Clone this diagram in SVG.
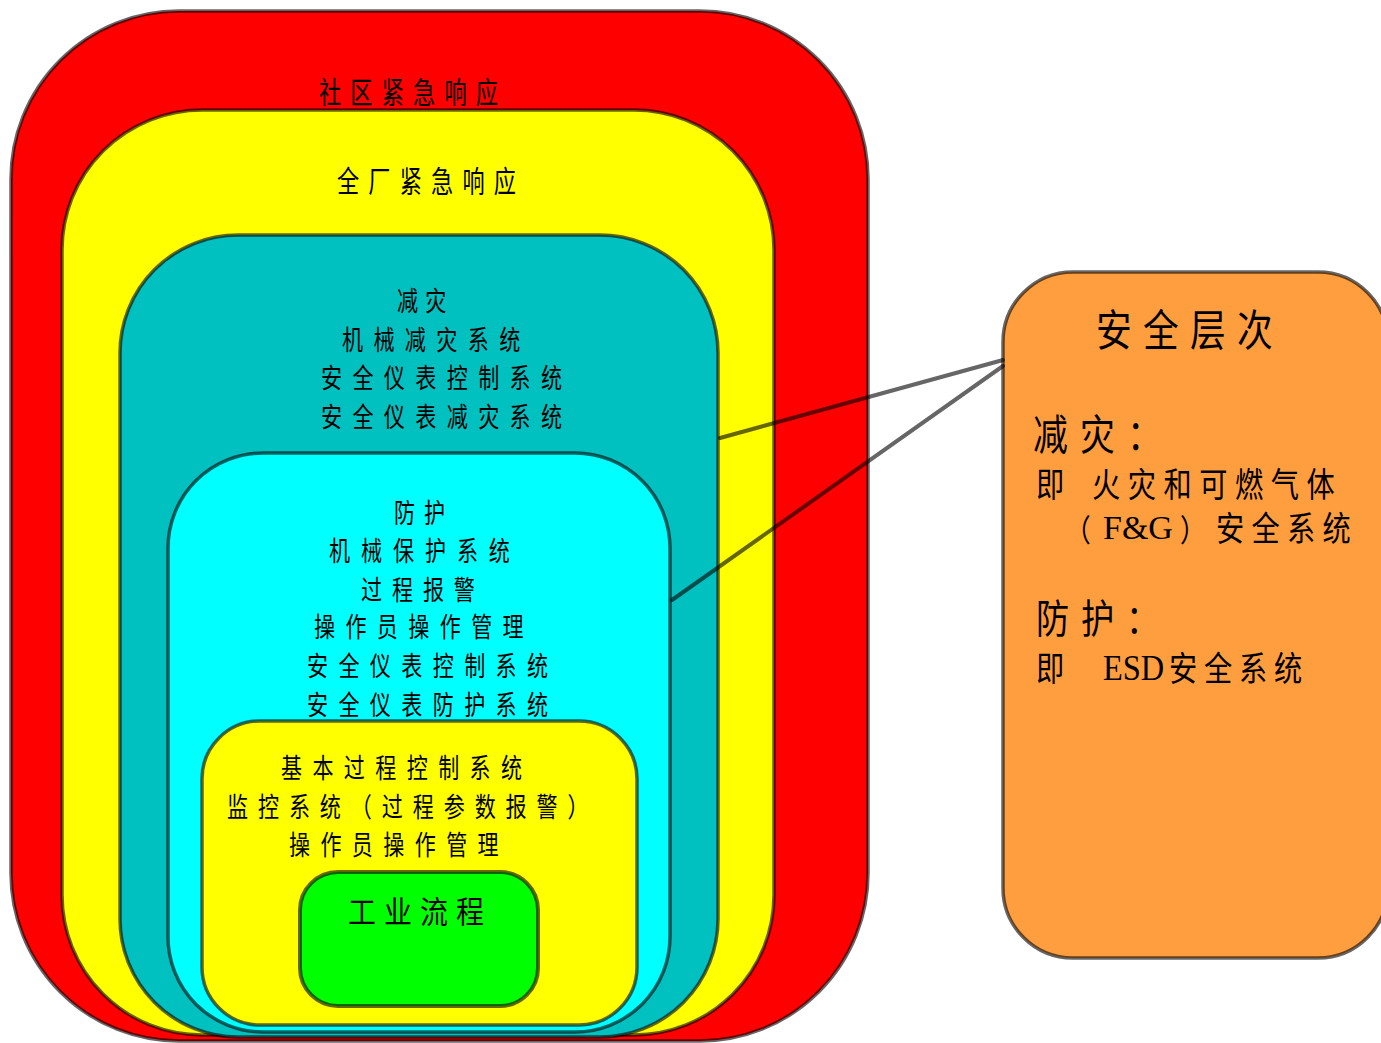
<svg xmlns="http://www.w3.org/2000/svg" width="1381" height="1043" viewBox="0 0 1381 1043">
  <style>
    .box { stroke: #000; stroke-opacity: 0.6; stroke-width: 3.5; }
    .t { font-family: "Noto Sans CJK SC", "Noto Sans", sans-serif; fill: #000; }
    .s27 { font-size: 27px; letter-spacing: 13.3px; }
    .s30 { font-size: 30px; letter-spacing: 12.4px; }
    .lat { font-family: "Liberation Serif", "Times New Roman", serif; fill: #000; }
    .link { stroke: #000; stroke-opacity: 0.6; stroke-width: 4; stroke-linecap: round; fill: none; }
  </style>

  <!-- nested safety layers, outermost first -->
  <g id="community-response">
    <rect class="box" x="11" y="11" width="857" height="1030" rx="168" ry="168" fill="#ff0000"/>
    <text class="t s30" transform="translate(319,103) scale(0.74,1)">社区紧急响应</text>
  </g>

  <g id="plant-response">
    <rect class="box" x="62" y="110" width="712" height="925" rx="140" ry="140" fill="#ffff00"/>
    <text class="t s30" transform="translate(337,192) scale(0.74,1)">全厂紧急响应</text>
  </g>

  <g id="mitigation">
    <rect class="box" x="120" y="235" width="598" height="802" rx="118" ry="118" fill="#00c0c0"/>
    <text class="t s27" style="letter-spacing:9.3px" transform="translate(397,311) scale(0.78,1)">减灾</text>
    <text class="t s27" transform="translate(342,350) scale(0.78,1)">机械减灾系统</text>
    <text class="t s27" transform="translate(321,388) scale(0.78,1)">安全仪表控制系统</text>
    <text class="t s27" transform="translate(321,427) scale(0.78,1)">安全仪表减灾系统</text>
  </g>

  <g id="prevention">
    <rect class="box" x="168" y="453" width="502" height="579" rx="95" ry="95" fill="#00ffff"/>
    <text class="t s27" style="letter-spacing:11.5px" transform="translate(394,523) scale(0.78,1)">防护</text>
    <text class="t s27" style="letter-spacing:14px" transform="translate(329,561) scale(0.78,1)">机械保护系统</text>
    <text class="t s27" style="letter-spacing:12.7px" transform="translate(361,600) scale(0.78,1)">过程报警</text>
    <text class="t s27" transform="translate(314,637) scale(0.78,1)">操作员操作管理</text>
    <text class="t s27" transform="translate(307,676) scale(0.78,1)">安全仪表控制系统</text>
    <text class="t s27" transform="translate(307,715) scale(0.78,1)">安全仪表防护系统</text>
  </g>

  <g id="basic-control">
    <rect class="box" x="202" y="721" width="435" height="304" rx="58" ry="58" fill="#ffff00"/>
    <text class="t s27" transform="translate(281,778) scale(0.78,1)">基本过程控制系统</text>
    <text class="t s27" style="letter-spacing:12.7px" transform="translate(227,817) scale(0.78,1)">监控系统（过程参数报警）</text>
    <text class="t s27" transform="translate(289,855) scale(0.78,1)">操作员操作管理</text>
  </g>

  <g id="process">
    <rect class="box" x="300" y="872" width="238" height="134" rx="38" ry="38" fill="#00ff00" style="stroke-width:4"/>
    <text class="t" style="font-size:31px;letter-spacing:9px" transform="translate(348,923) scale(0.9,1)">工业流程</text>
  </g>

  <!-- legend box -->
  <g id="safety-levels">
    <rect class="box" x="1003" y="272" width="385" height="686" rx="70" ry="70" fill="#ff9e3e"/>
    <text class="t" style="font-size:43px;letter-spacing:13.6px" transform="translate(1096,346) scale(0.83,1)">安全层次</text>
    <text class="t" style="font-size:42px;letter-spacing:14.6px" transform="translate(1033,450) scale(0.83,1)">减灾：</text>
    <text class="t" style="font-size:34px" transform="translate(1036,497) scale(0.83,1)">即</text>
    <text class="t" style="font-size:34px;letter-spacing:9.1px" transform="translate(1092,497) scale(0.83,1)">火灾和可燃气体</text>
    <text class="t" style="font-size:31px" transform="translate(1065,541) scale(0.83,1)">（</text>
    <text class="lat" style="font-size:34px" x="1103" y="539">F&amp;G</text>
    <text class="t" style="font-size:31px" transform="translate(1180,541) scale(0.83,1)">）</text>
    <text class="t" style="font-size:34px;letter-spacing:8.8px" transform="translate(1216,541) scale(0.83,1)">安全系统</text>
    <text class="t" style="font-size:40px;letter-spacing:14.2px" transform="translate(1036,633) scale(0.83,1)">防护：</text>
    <text class="t" style="font-size:34px" transform="translate(1036,681) scale(0.83,1)">即</text>
    <text class="lat" style="font-size:36px" transform="translate(1103,680) scale(0.9,1)">ESD</text>
    <text class="t" style="font-size:34px;letter-spacing:8.2px" transform="translate(1169,681) scale(0.83,1)">安全系统</text>
  </g>

  <g id="connectors">
    <line class="link" x1="720" y1="438" x2="1003" y2="360"/>
    <line class="link" x1="672" y1="600" x2="1003" y2="366"/>
  </g>
</svg>
